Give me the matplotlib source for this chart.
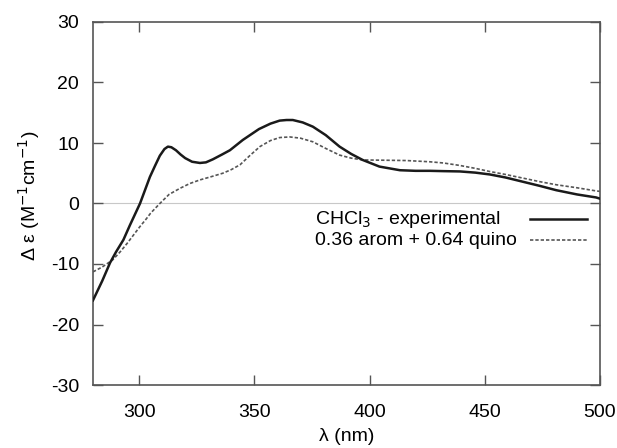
import matplotlib
matplotlib.use("Agg")
import matplotlib.pyplot as plt
from matplotlib.lines import Line2D

plt.rcParams["font.family"] = ["Liberation Sans", "DejaVu Sans"]
plt.rcParams["axes.unicode_minus"] = False

# CHCl3 experimental CD spectrum
wl_exp = [280, 284, 287.4, 290, 293.2, 296, 300.4, 304.7, 307, 309, 311, 312.5, 314, 316,
          318, 320, 323, 326.4, 329, 332, 336, 339.4, 345, 352, 357, 361, 364, 366.7,
          371, 375.4, 381, 387, 392, 397, 404.3, 413.2, 420, 426.2, 432, 439.2, 446,
          452.2, 459, 466.5, 474, 481, 490, 498.3, 500]
de_exp = [-16.0, -12.8, -9.8, -8.0, -6.0, -3.6, 0.0, 4.4, 6.3, 7.9, 9.0, 9.4, 9.3, 8.8,
          8.1, 7.5, 6.9, 6.7, 6.8, 7.3, 8.1, 8.8, 10.5, 12.3, 13.2, 13.7, 13.8, 13.8,
          13.4, 12.7, 11.3, 9.4, 8.2, 7.2, 6.1, 5.5, 5.4, 5.4, 5.35, 5.3, 5.1,
          4.8, 4.3, 3.6, 2.9, 2.2, 1.5, 1.0, 0.8]

# 0.36 arom + 0.64 quino simulated spectrum
wl_sim = [280, 284, 288.6, 292, 295, 298, 300.4, 303, 305, 309, 313, 317.7, 322, 326.4,
          331, 336.3, 340, 343.8, 348, 352.4, 357, 361, 365.4, 370, 375.4, 381, 387,
          392, 397, 407, 416, 426, 432, 439, 446, 452, 459, 466.5, 474, 481, 490, 498, 500]
de_sim = [-11.3, -10.5, -9.3, -7.9, -6.5, -5.0, -3.8, -2.6, -1.6, 0.0, 1.5, 2.5, 3.3, 3.9,
          4.4, 5.0, 5.6, 6.4, 7.9, 9.4, 10.4, 10.9, 11.0, 10.8, 10.2, 9.1, 8.0,
          7.5, 7.2, 7.15, 7.1, 6.9, 6.7, 6.3, 5.8, 5.3, 4.8, 4.2, 3.6, 3.1, 2.6, 2.1, 2.0]

labels = [r"CHCl$_3$ - experimental", "0.36 arom + 0.64 quino"]
xticks = [300, 350, 400, 450, 500]
yticks = [-30, -20, -10, 0, 10, 20, 30]

EXP = dict(color="#1a1a1a", lw=1.8)
SIM = dict(color="#555555", lw=1.2, ls=(0, (2.0, 1.2)))

fig = plt.figure(figsize=(6.17, 4.48), dpi=100)
ax = fig.add_axes([93 / 617, 63 / 448, 507 / 617, 363 / 448])

ax.axhline(0, color="#c8c8c8", lw=0.8, zorder=1)
ax.plot(wl_exp, de_exp, zorder=3, **EXP)
ax.plot(wl_sim, de_sim, zorder=2, **SIM)

ax.set_xlim(280, 500)
ax.set_ylim(-30, 30)
ax.set_xticks(xticks)
ax.set_yticks(yticks)
ax.tick_params(direction="in", length=7, width=1, color="#555555", labelsize=14,
               top=True, right=True, pad=10)
ax.tick_params(axis="x", pad=14)
for s in ax.spines.values():
    s.set_color("#555555")
    s.set_linewidth(1.2)

ax.set_xlabel("λ (nm)", fontsize=14, labelpad=5)
ax.set_ylabel(r"Δ ε (M$^{-1}$cm$^{-1}$)", fontsize=14)
ax.yaxis.set_label_coords(-0.10, 0.52)

# gnuplot-style key: left-aligned text, sample line on the right
for i, (lab, sty) in enumerate(zip(labels, [EXP, SIM])):
    y = 0.457 - i * 0.058
    ax.text(0.438, y, lab, transform=ax.transAxes, fontsize=14, va="center", ha="left")
    ax.add_line(Line2D([0.862, 0.974], [y, y], transform=ax.transAxes, **sty))

fig.savefig("out.png", dpi=100)
